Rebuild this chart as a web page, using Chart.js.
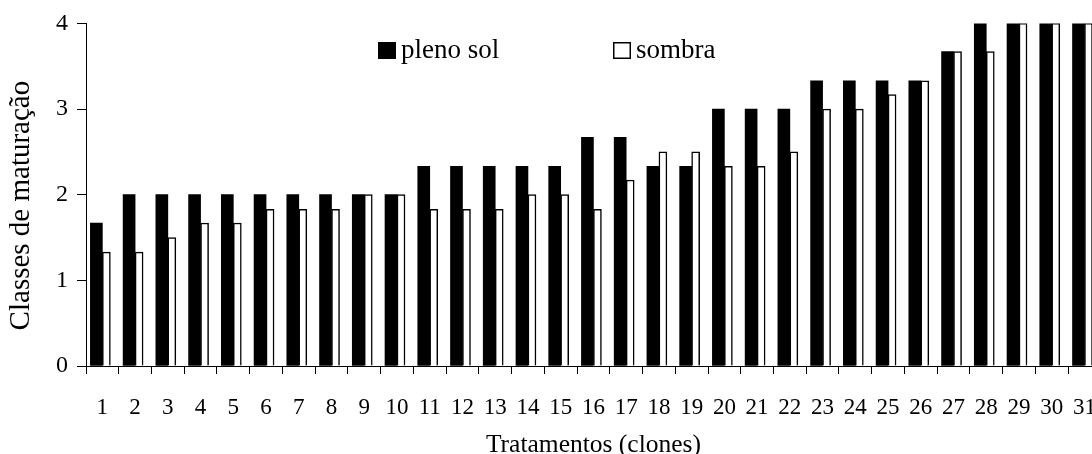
<!DOCTYPE html>
<html>
<head>
<meta charset="utf-8">
<script src="https://cdn.jsdelivr.net/npm/chart.js@4/dist/chart.umd.min.js"></script>
<style>
  html, body { margin: 0; padding: 0; background: #fff; overflow: hidden; width: 1092px; height: 454px; }
  #c { display: block; }
</style>
</head>
<body>
<canvas id="c" width="1116" height="454"></canvas>
<script>
const categories = ['1','2','3','4','5','6','7','8','9','10','11','12','13','14','15','16','17','18','19','20','21','22','23','24','25','26','27','28','29','30','31'];
const plenoSol = [1.67, 2, 2, 2, 2, 2, 2, 2, 2, 2, 2.33, 2.33, 2.33, 2.33, 2.33, 2.67, 2.67, 2.33, 2.33, 3, 3, 3, 3.33, 3.33, 3.33, 3.33, 3.67, 4, 4, 4, 4];
const sombra   = [1.33, 1.33, 1.5, 1.67, 1.67, 1.83, 1.83, 1.83, 2, 2, 1.83, 1.83, 1.83, 2, 2, 1.83, 2.17, 2.5, 2.5, 2.33, 2.33, 2.5, 3, 3, 3.17, 3.33, 3.67, 3.67, 4, 4, 4];
const yTicks = [0, 1, 2, 3, 4];
const seriesLabels = ['pleno sol', 'sombra'];
const yTitle = 'Classes de maturação   ';
const xTitle = 'Tratamentos (clones)';

const SERIF = "'Liberation Serif', 'Times New Roman', serif";

const customLegend = {
  id: 'customLegend',
  afterDraw(chart, args, opts) {
    const ctx = chart.ctx;
    ctx.save();
    ctx.font = opts.fontSize + 'px ' + SERIF;
    ctx.textBaseline = 'alphabetic';
    ctx.textAlign = 'left';
    chart.data.datasets.forEach((ds, i) => {
      const it = opts.items[i];
      ctx.fillStyle = ds.backgroundColor;
      ctx.fillRect(it.x, opts.boxTop, opts.boxW, opts.boxH);
      ctx.lineWidth = 1.5;
      ctx.strokeStyle = '#000';
      ctx.strokeRect(it.x + 0.75, opts.boxTop + 0.75, opts.boxW - 1.5, opts.boxH - 1.5);
      ctx.fillStyle = '#000';
      ctx.fillText(ds.label, it.x + opts.boxW + 5, opts.baseline);
    });
    ctx.restore();
  }
};

new Chart(document.getElementById('c'), {
  type: 'bar',
  data: {
    labels: categories,
    datasets: [
      { label: seriesLabels[0], data: plenoSol, backgroundColor: '#000000', borderWidth: 0, barThickness: 12 },
      { label: seriesLabels[1], data: sombra, backgroundColor: '#ffffff', borderColor: '#000000', borderWidth: 1.5, barThickness: 8 }
    ]
  },
  options: {
    responsive: false,
    animation: false,
    devicePixelRatio: 1,
    layout: { padding: { top: 22, right: 0, bottom: 0, left: 0 } },
    plugins: {
      legend: { display: false },
      tooltip: { enabled: false },
      customLegend: {
        fontSize: 27,
        boxTop: 42, boxW: 18, boxH: 17, baseline: 58,
        items: [{ x: 378 }, { x: 613 }]
      }
    },
    scales: {
      x: {
        grid: { display: true, offset: true, drawOnChartArea: false, drawTicks: true, tickLength: 8, color: '#000', lineWidth: 1 },
        border: { display: true, color: '#000', width: 1 },
        ticks: { color: '#000', font: { family: SERIF, size: 23 }, padding: 20, maxRotation: 0, autoSkip: false },
        title: { display: true, text: xTitle, color: '#000', font: { family: SERIF, size: 25.5, lineHeight: 0.7 }, padding: 0 },
        afterFit(scale) { scale.height = 88; }
      },
      y: {
        min: 0, max: 4,
        afterBuildTicks(scale) { scale.ticks = yTicks.map(v => ({ value: v })); },
        grid: { display: true, drawOnChartArea: false, drawTicks: true, tickLength: 9, color: '#000', lineWidth: 1 },
        border: { display: true, color: '#000', width: 1 },
        ticks: { color: '#000', font: { family: SERIF, size: 24 }, padding: 9 },
        title: { display: true, text: yTitle, color: '#000', font: { family: SERIF, size: 29, lineHeight: 1 }, padding: { top: 7, bottom: 0 } },
        afterFit(scale) { scale.width = 86; }
      }
    }
  },
  plugins: [customLegend]
});
</script>
</body>
</html>
